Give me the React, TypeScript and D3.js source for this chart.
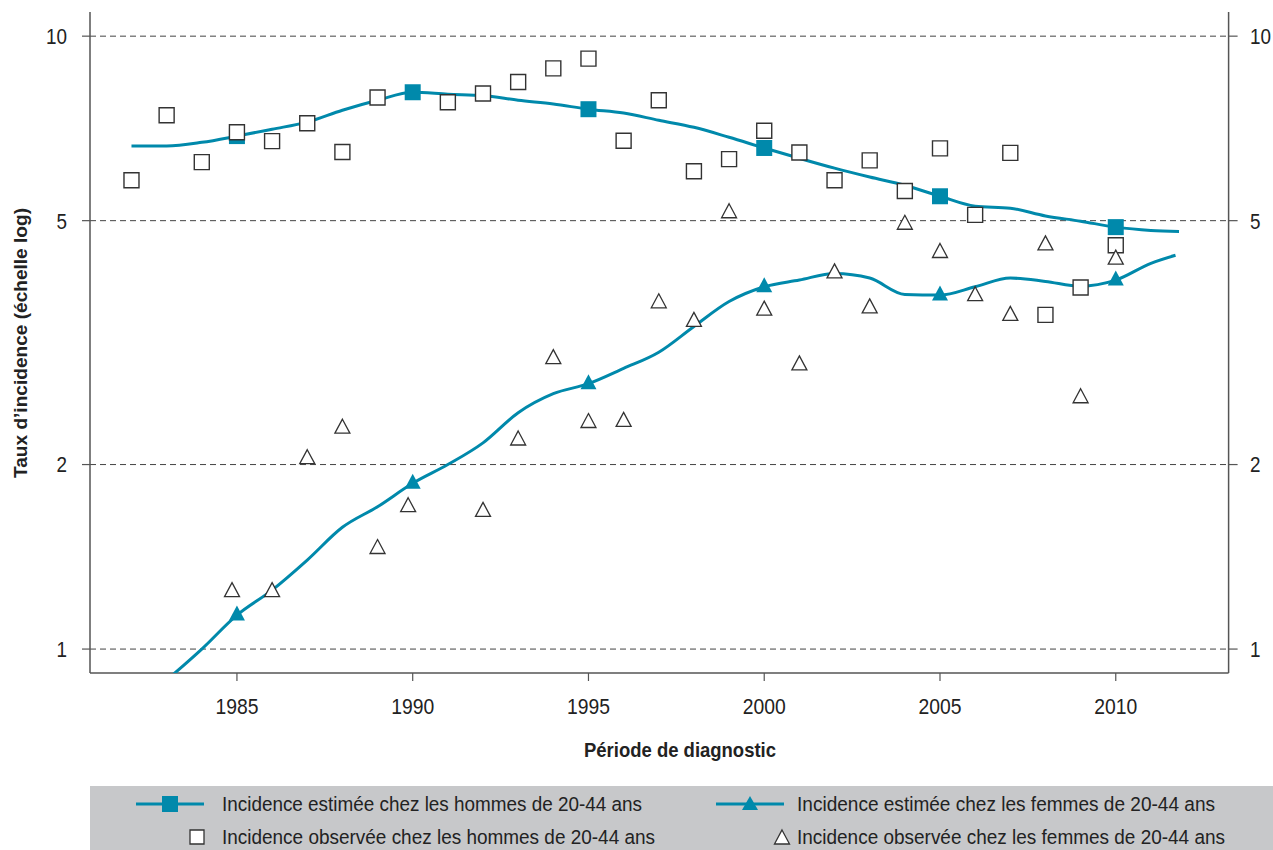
import { useEffect } from 'react'
import * as d3 from 'd3'

// estimated incidence, men 20-44 (one point per year, last point where the curve ends)
const maleEstYears = [1982, 1983, 1984, 1985, 1986, 1987, 1988, 1989, 1990, 1991, 1992, 1993, 1994, 1995, 1996, 1997, 1998, 1999, 2000, 2001, 2002, 2003, 2004, 2005, 2006, 2007, 2008, 2009, 2010, 2011, 2011.8]
const maleEst = [6.62, 6.62, 6.71, 6.87, 7.05, 7.24, 7.57, 7.86, 8.1, 8.04, 8.0, 7.86, 7.75, 7.6, 7.49, 7.29, 7.1, 6.84, 6.57, 6.32, 6.09, 5.89, 5.71, 5.48, 5.28, 5.24, 5.09, 4.99, 4.88, 4.82, 4.8]

// estimated incidence, women 20-44
const femaleEstYears = [1983, 1984, 1985, 1986, 1987, 1988, 1989, 1990, 1991, 1992, 1993, 1994, 1995, 1996, 1997, 1998, 1999, 2000, 2001, 2002, 2003, 2004, 2005, 2006, 2007, 2008, 2009, 2010, 2011, 2011.7]
const femaleEst = [0.89, 1.0, 1.136, 1.248, 1.397, 1.58, 1.707, 1.864, 2.0, 2.17, 2.43, 2.61, 2.71, 2.87, 3.05, 3.36, 3.69, 3.9, 4.0, 4.1, 4.03, 3.79, 3.78, 3.9, 4.03, 3.98, 3.91, 4.0, 4.26, 4.39]

// observed incidence
const maleObsYears = [1982, 1983, 1984, 1985, 1986, 1987, 1988, 1989, 1991, 1992, 1993, 1994, 1995, 1996, 1997, 1998, 1999, 2000, 2001, 2002, 2003, 2004, 2005, 2006, 2007, 2008, 2009, 2010]
const maleObs = [5.82, 7.43, 6.23, 6.97, 6.74, 7.21, 6.47, 7.94, 7.8, 8.06, 8.42, 8.86, 9.19, 6.75, 7.86, 6.02, 6.3, 7.01, 6.46, 5.82, 6.27, 5.59, 6.56, 5.11, 6.45, 3.51, 3.89, 4.56]
const femaleObsYears = [1984.86, 1986, 1987, 1988, 1989, 1989.87, 1992, 1993, 1994, 1995, 1996, 1997, 1998, 1999, 2000, 2001, 2002, 2003, 2004, 2005, 2006, 2007, 2008, 2009, 2010]
const femaleObs = [1.25, 1.25, 2.06, 2.31, 1.47, 1.72, 1.69, 2.21, 3.0, 2.36, 2.37, 3.7, 3.45, 5.19, 3.6, 2.93, 4.14, 3.63, 4.97, 4.47, 3.8, 3.53, 4.6, 2.59, 4.36]

const xTicks = [1985, 1990, 1995, 2000, 2005, 2010]
const yTicks = [1, 2, 5, 10]

const legendLabels = [
  'Incidence estimée chez les hommes de 20-44 ans',
  'Incidence estimée chez les femmes de 20-44 ans',
  'Incidence observée chez les hommes de 20-44 ans',
  'Incidence observée chez les femmes de 20-44 ans',
]

const TEAL = '#0089ab'
const AXIS = '#555'
const INK = '#222'
// no condensed face installed, so glyphs get squeezed with textLength
const FONT = '"Liberation Sans", Arial, sans-serif'

const W = 1273
const H = 850
const left = 90
const right = 1228.6
const top = 12
const bottom = 673

export default function App() {
  useEffect(() => {
    document.body.style.margin = '0'
  }, [])

  const x = d3.scaleLinear().domain([1980.82, 2013.21]).range([left, right])
  const y = d3.scaleLog().domain([0.914, 10.95]).range([bottom, top])

  const line = d3
    .line<[number, number]>()
    .x((d) => x(d[0]))
    .y((d) => y(d[1]))
    .curve(d3.curveMonotoneX)

  const malePts: [number, number][] = maleEstYears.map((yr, i) => [yr, maleEst[i]])
  const femalePts: [number, number][] = femaleEstYears.map((yr, i) => [yr, femaleEst[i]])
  const maleMarks = malePts.filter((d) => d[0] % 5 === 0)
  const femaleMarks = femalePts.filter((d) => d[0] % 5 === 0)

  const sq = (cx: number, cy: number, s: number) => `M${cx - s / 2},${cy - s / 2}h${s}v${s}h${-s}Z`
  const tri = (cx: number, cy: number, w: number, h: number) =>
    `M${cx},${cy - h / 2}L${cx + w / 2},${cy + h / 2}L${cx - w / 2},${cy + h / 2}Z`

  const legendWidths = [420, 418, 433, 428]

  return (
    <svg width={W} height={H} style={{ display: 'block', background: '#fff' }} fontFamily={FONT}>
      <defs>
        <clipPath id="plot">
          <rect x={left} y={top} width={right - left} height={bottom - top} />
        </clipPath>
      </defs>

      {/* grid + y ticks */}
      {yTicks.map((t) => (
        <g key={t}>
          <line x1={left} x2={right} y1={y(t)} y2={y(t)} stroke="#444" strokeWidth={1} strokeDasharray="6 4" />
          <line x1={left - 8} x2={left} y1={y(t)} y2={y(t)} stroke={AXIS} strokeWidth={1.2} />
          <line x1={right} x2={right + 9} y1={y(t)} y2={y(t)} stroke={AXIS} strokeWidth={1.2} />
          <text x={67} y={y(t)} dy="0.36em" textAnchor="end" fontSize={22} fill={INK}
            textLength={String(t).length * 10.5} lengthAdjust="spacingAndGlyphs">{t}</text>
          <text x={1250} y={y(t)} dy="0.36em" textAnchor="start" fontSize={22} fill={INK}
            textLength={String(t).length * 10.5} lengthAdjust="spacingAndGlyphs">{t}</text>
        </g>
      ))}

      {/* x ticks */}
      {xTicks.map((t) => (
        <g key={t}>
          <line x1={x(t)} x2={x(t)} y1={bottom} y2={bottom + 8} stroke={AXIS} strokeWidth={1.2} />
          <text x={x(t)} y={714} textAnchor="middle" fontSize={22} fill={INK}
            textLength={43} lengthAdjust="spacingAndGlyphs">{t}</text>
        </g>
      ))}

      {/* axes */}
      <line x1={left} x2={left} y1={top} y2={bottom} stroke={AXIS} strokeWidth={1.5} />
      <line x1={right} x2={right} y1={top} y2={bottom} stroke={AXIS} strokeWidth={1.5} />
      <line x1={left} x2={right} y1={bottom} y2={bottom} stroke={AXIS} strokeWidth={1.5} />

      {/* axis titles */}
      <text transform="translate(27,343) rotate(-90)" textAnchor="middle" fontSize={19} fontWeight="bold" fill={INK}
        textLength={270} lengthAdjust="spacingAndGlyphs">
        Taux d’incidence (échelle log)
      </text>
      <text x={680} y={757} textAnchor="middle" fontSize={21} fontWeight="bold" fill={INK}
        textLength={192} lengthAdjust="spacingAndGlyphs">
        Période de diagnostic
      </text>

      {/* estimated lines */}
      <g clipPath="url(#plot)">
        <path d={line(malePts) || ''} fill="none" stroke={TEAL} strokeWidth={3} />
        <path d={line(femalePts) || ''} fill="none" stroke={TEAL} strokeWidth={3} />
      </g>
      {maleMarks.map((d) => (
        <path key={'ms' + d[0]} d={sq(x(d[0]), y(d[1]), 16)} fill={TEAL} />
      ))}
      {femaleMarks.map((d) => (
        <path key={'ft' + d[0]} d={tri(x(d[0]), y(d[1]) - 2, 16, 15)} fill={TEAL} />
      ))}

      {/* observed points */}
      {maleObsYears.map((yr, i) => (
        <path key={'mo' + yr} d={sq(x(yr), y(maleObs[i]), 15)} fill="#fff" stroke="#333" strokeWidth={1.4} />
      ))}
      {femaleObsYears.map((yr, i) => (
        <path key={'fo' + yr} d={tri(x(yr), y(femaleObs[i]), 15, 14)} fill="#fff" stroke="#333" strokeWidth={1.3} />
      ))}

      {/* legend */}
      <rect x={left} y={786} width={W - left} height={H - 786} fill="#c7c8ca" />
      <line x1={136} x2={204} y1={804} y2={804} stroke={TEAL} strokeWidth={3} />
      <path d={sq(170, 804, 16)} fill={TEAL} />
      <line x1={716} x2={784} y1={804} y2={804} stroke={TEAL} strokeWidth={3} />
      <path d={tri(750, 803, 16, 14)} fill={TEAL} />
      <path d={sq(197, 837, 14)} fill="#fff" stroke="#333" strokeWidth={1.3} />
      <path d={tri(782, 837, 15, 14)} fill="#fff" stroke="#333" strokeWidth={1.3} />
      {legendLabels.map((lab, i) => (
        <text key={lab} x={i % 2 === 0 ? 222 : 797} y={i < 2 ? 804 : 837} dy="0.36em" fontSize={20.5} fill={INK}
          textLength={legendWidths[i]} lengthAdjust="spacingAndGlyphs">{lab}</text>
      ))}
    </svg>
  )
}
